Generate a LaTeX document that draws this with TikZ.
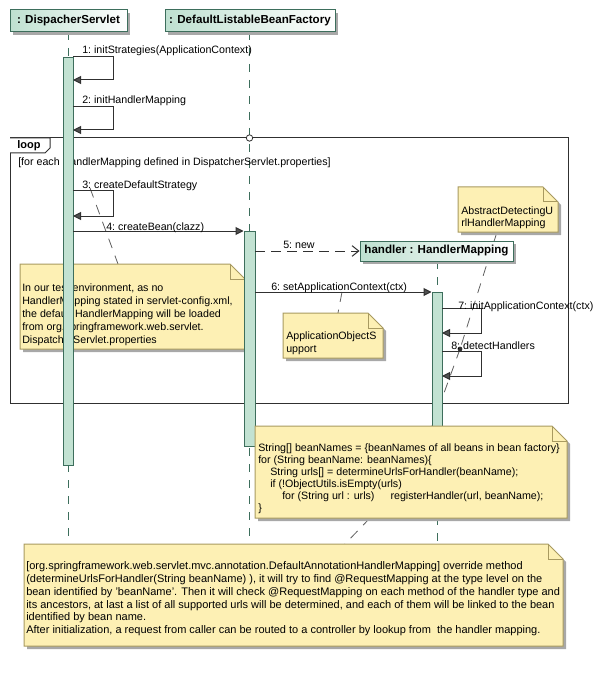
\documentclass[tikz,border=0pt]{standalone}
\usepackage{fontspec}
\setmainfont{Liberation Sans}
\usetikzlibrary{arrows.meta,shadows}
\definecolor{hdrfill}{HTML}{BEE0D0}
\definecolor{lgreen}{HTML}{3D6E5C}
\definecolor{barfill}{HTML}{C2E2D2}
\definecolor{notefill}{HTML}{FDF0B4}
\definecolor{notebd}{HTML}{A89A60}
\definecolor{shadowgray}{HTML}{A8A8A8}
\definecolor{msgcol}{HTML}{303030}
\definecolor{tipcol}{HTML}{505050}
\definecolor{conncol}{HTML}{606060}
\newcommand\umlnote[5]{%
  \fill[shadowgray] ({#2+3},{#3+3}) -- ({#4+3-15},{#3+3}) -- ({#4+3},{#3+3+15}) -- ({#4+3},{#5+3}) -- ({#2+3},{#5+3}) -- cycle;
  \filldraw[fill=notefill,draw=notebd,line width=0.75pt] (#2,#3) -- ({#4-15},#3) -- (#4,{#3+15}) -- (#4,#5) -- (#2,#5) -- cycle;
  \draw[notebd,line width=0.75pt,line join=miter] ({#4-15},#3) -- ({#4-15},{#3+15}) -- (#4,{#3+15});
  \coordinate (#1-nw) at (#2,#3);
  \coordinate (#1-se) at (#4,#5);
}
\begin{document}
\begin{tikzpicture}[x=0.75pt,y=-0.75pt,
  hdr/.style={draw=lgreen,line width=0.75pt,left color=hdrfill,right color=white,
    font=\fontsize{8.7}{11}\selectfont\bfseries,inner sep=0pt,
    drop shadow={fill=shadowgray,opacity=1,shadow xshift=2.25pt,shadow yshift=-2.25pt}},
  lifeline/.style={draw=lgreen,line width=0.75pt,dash pattern=on 6pt off 6pt},
  actbar/.style={draw=lgreen,fill=barfill,line width=0.75pt,anchor=north,inner sep=0pt,minimum width=7.5pt},
  msg/.style={draw=msgcol,line width=0.75pt,-{Triangle[length=6pt,width=6pt,fill=tipcol]}},
  newmsg/.style={draw=msgcol,line width=0.75pt,dash pattern=on 7.5pt off 4.5pt,-{Straight Barb[length=5pt,width=8pt]}},
  conn/.style={draw=conncol,line width=0.6pt,dash pattern=on 7.5pt off 6pt},
  lbl/.style={font=\fontsize{8}{9.6}\selectfont,inner sep=0pt,anchor=base west},
  notetext/.style={font=\fontsize{8}{#1}\selectfont,inner sep=0pt,anchor=north west,align=left},
  frame/.style={draw=msgcol,line width=0.75pt}
]
\useasboundingbox (0,0) rectangle (608,677);
% lifelines
\coordinate (l1end) at (68,541);
\coordinate (l2end) at (249.5,541);
\coordinate (l3end) at (437,541);
\draw[lifeline] (68,32) -- (l1end);
\draw[lifeline] (249.5,32) -- (l2end);
\draw[lifeline] (437,261) -- (l3end);
% loop frame
\draw[frame] (10,138) rectangle (568,403);
\draw[frame,fill=white] (10,138) -- (50,138) -- (50,148) -- (45,153) -- (10,153);
\node[font=\fontsize{8.25}{10}\selectfont\bfseries,inner sep=0pt] (looplbl) at (29,145.5) {loop};
\draw[frame,fill=white,line width=0.6pt] (249.5,138) circle (3.2);
\node[lbl] (guard) at (18,166) {[for each HandlerMapping defined in DispatcherServlet.properties]};
% note connectors
\coordinate (c3) at (90,188);
\coordinate (n1c) at (118,264);
\coordinate (c6) at (342,292);
\coordinate (n2c) at (338,313);
\coordinate (dot8) at (460,349);
\coordinate (n3c) at (497,232);
\coordinate (n4c) at (432,426);
\coordinate (n4b) at (370,518);
\coordinate (n5c) at (345,544);
\draw[conn] (c3) -- (n1c);
\draw[conn] (c6) -- (n2c);
\draw[conn] (n3c) -- (dot8);
\draw[conn] (n4c) -- (dot8);
\draw[conn] (n4b) -- (n5c);
\fill[msgcol] (dot8) circle (2.4);
% notes
\umlnote{n1}{20}{264}{245}{349}
\node[notetext=9.75] (n1t) at (22,283.5) {In our test environment, as no\\HandlerMapping stated in servlet-config.xml,\\the default HandlerMapping will be loaded\\from org.springframework.web.servlet.\\DispatcherServlet.properties};
\umlnote{n2}{283}{313}{383}{358}
\node[notetext=9.4] (n2t) at (286,331.5) {ApplicationObjectS\\upport};
\umlnote{n3}{458}{187}{558}{232}
\node[notetext=9] (n3t) at (461,206.5) {AbstractDetectingU\\rlHandlerMapping};
% headers
\node[hdr,minimum width=87.75pt,minimum height=16.5pt] (ds) at (68.5,21) {: DispacherServlet};
\node[hdr,minimum width=127.5pt,minimum height=16.5pt] (bf) at (250,21) {: DefaultListableBeanFactory};
\node[hdr,minimum width=114.75pt,minimum height=15pt] (hm) at (436.5,251) {handler : HandlerMapping};
% activation bars
\node[actbar,minimum height=306pt] (b1) at (68,57) {};
\node[actbar,minimum width=8.25pt,minimum height=161.25pt] (b2) at (249.5,231) {};
\node[actbar,minimum height=102pt] (b3) at (437,292) {};
% messages
\coordinate (m1a) at (73,57);  \coordinate (m1b) at (113,80);  \coordinate (m1c) at (73,80);
\coordinate (m2a) at (73,107); \coordinate (m2b) at (113,130); \coordinate (m2c) at (73,130);
\coordinate (m3a) at (73,191); \coordinate (m3b) at (113,216); \coordinate (m3c) at (73,216);
\coordinate (m4a) at (73,231);
\coordinate (m5a) at (255,251);
\coordinate (m6a) at (255,292);
\coordinate (m7a) at (442,308); \coordinate (m7b) at (481,333); \coordinate (m7c) at (442,333);
\coordinate (m8a) at (442,351); \coordinate (m8b) at (481,376); \coordinate (m8c) at (442,376);
\draw[msg] (m1a) -| (m1b) -- (m1c);
\draw[msg] (m2a) -| (m2b) -- (m2c);
\draw[msg] (m3a) -| (m3b) -- (m3c);
\draw[msg] (m4a) -- (b2.north west);
\draw[newmsg] (m5a) -- (hm.west);
\draw[msg] (m6a) -- (b3.north west);
\draw[msg] (m7a) -| (m7b) -- (m7c);
\draw[msg] (m8a) -| (m8b) -- (m8c);
\node[lbl] (l1) at (82,54) {1:\ initStrategies(ApplicationContext)};
\node[lbl] (l2) at (82,104) {2:\ initHandlerMapping};
\node[lbl] (l3) at (82,189) {3:\ createDefaultStrategy};
\node[lbl] (l4) at (106,230) {4:\ createBean(clazz)};
\node[lbl] (l5) at (283,248) {5:\ new};
\node[lbl] (l6) at (271,290) {6:\ setApplicationContext(ctx)};
\node[lbl] (l7) at (458,309) {7:\ initApplicationContext(ctx)};
\node[lbl] (l8) at (451,349) {8:\ detectHandlers};
% notes on top
\umlnote{n4}{255}{426}{567}{518}
\node[notetext=9] (n4t) at (258,443.5) {String[] beanNames = \{beanNames of all beans in bean factory\}\\for (String beanName: beanNames)\{\\\hspace*{9pt}String urls[] = determineUrlsForHandler(beanName);\\\hspace*{9pt}if (!ObjectUtils.isEmpty(urls)\\\hspace*{18pt}for (String url : urls)\hspace*{12pt}registerHandler(url, beanName);\\\}};
\umlnote{n5}{24}{544}{563}{646}
\node[notetext=9.6,font=\fontsize{8.25}{9.6}\selectfont] (n5t) at (26,561.5) {[org.springframework.web.servlet.mvc.annotation.DefaultAnnotationHandlerMapping] override method\\(determineUrlsForHandler(String beanName) ), it will try to find @RequestMapping at the type level on the\\bean identified by 'beanName'. Then it will check @RequestMapping on each method of the handler type and\\its ancestors, at last a list of all supported urls will be determined, and each of them will be linked to the bean\\identified by bean name.\\After initialization, a request from caller can be routed to a controller by lookup from\ \ the handler mapping.};
\end{tikzpicture}
\end{document}
